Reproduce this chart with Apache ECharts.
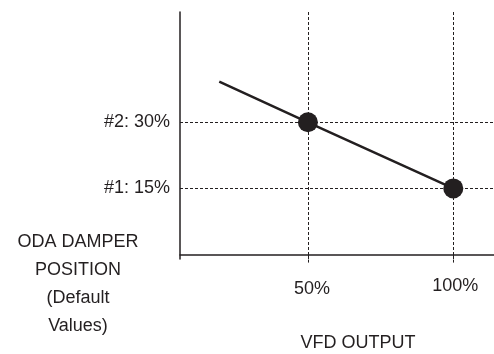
<!DOCTYPE html>
<html>
<head>
<meta charset="utf-8">
<script src="https://cdn.jsdelivr.net/npm/echarts@6/dist/echarts.min.js"></script>
<style>
  html, body { margin: 0; padding: 0; background: #fff; }
  #chart { width: 494px; height: 354px; }
</style>
</head>
<body>
<div id="chart"></div>
<script>
// VFD output (%) vs ODA damper position (%)
const vfdOutput = [19.5, 50, 100];
const damperPos = [39.2, 30, 15];
// the two default set points shown as dots
const pointX = [50, 100];
const pointY = [30, 15];
const xTicks = [50, 100];
const yTicks = [15, 30];
const yTickLabels = { 15: '#1: 15%', 30: '#2: 30%' };

const ink = '#231f20';
const font = "'Liberation Sans', Arial, sans-serif";

const chart = echarts.init(document.getElementById('chart'));

const option = {
  animation: false,
  backgroundColor: '#fff',
  grid: { left: 180, right: 0, top: 12, bottom: 95 },
  xAxis: {
    type: 'value',
    min: 6,
    max: 114,
    axisLine: { show: true, lineStyle: { color: ink, width: 1.5 } },
    axisTick: {
      show: true,
      customValues: xTicks,
      length: 9,
      lineStyle: { color: ink, type: [3, 2], width: 1 },
    },
    axisLabel: {
      customValues: xTicks,
      margin: 18,
      formatter(v) {
        return v === 50 ? `{a|${v}%}` : `{b|${v}%}`;
      },
      rich: {
        a: { fontFamily: font, fontSize: 18, color: ink, padding: [3, 0, 0, 8] },
        b: { fontFamily: font, fontSize: 18, color: ink, padding: [0, 0, 0, 4] },
      },
    },
    splitLine: {
      show: true,
      lineStyle: { color: ink, type: [3, 2], width: 1 },
    },
  },
  yAxis: {
    type: 'value',
    min: -1,
    max: 55,
    axisLine: { show: true, lineStyle: { color: ink, width: 1.5 } },
    axisTick: { show: false, customValues: yTicks },
    axisLabel: {
      customValues: yTicks,
      margin: 10,
      fontFamily: font,
      fontSize: 18,
      color: ink,
      padding: [4, 0, 0, 0],
      formatter(v) {
        return yTickLabels[v];
      },
    },
    splitLine: {
      show: true,
      lineStyle: { color: ink, type: [3, 2], width: 1 },
    },
  },
  graphic: [
    {
      type: 'text',
      x: 78,
      y: 228,
      style: {
        text: 'ODA DAMPER\nPOSITION\n(Default\nValues)',
        fontFamily: font,
        fontSize: 18,
        lineHeight: 28,
        fill: ink,
        align: 'center',
        verticalAlign: 'top',
      },
    },
    {
      type: 'text',
      x: 358,
      y: 343,
      style: {
        text: 'VFD OUTPUT',
        fontFamily: font,
        fontSize: 18,
        fill: ink,
        align: 'center',
        verticalAlign: 'middle',
      },
    },
  ],
  series: [
    {
      type: 'line',
      data: vfdOutput.map((x, i) => [x, damperPos[i]]),
      showSymbol: false,
      lineStyle: { color: ink, width: 2.5 },
      z: 3,
    },
    {
      type: 'scatter',
      data: pointX.map((x, i) => [x, pointY[i]]),
      symbol: 'circle',
      symbolSize: 20,
      itemStyle: { color: ink, opacity: 1 },
      z: 4,
    },
  ],
};

chart.setOption(option);
</script>
</body>
</html>
